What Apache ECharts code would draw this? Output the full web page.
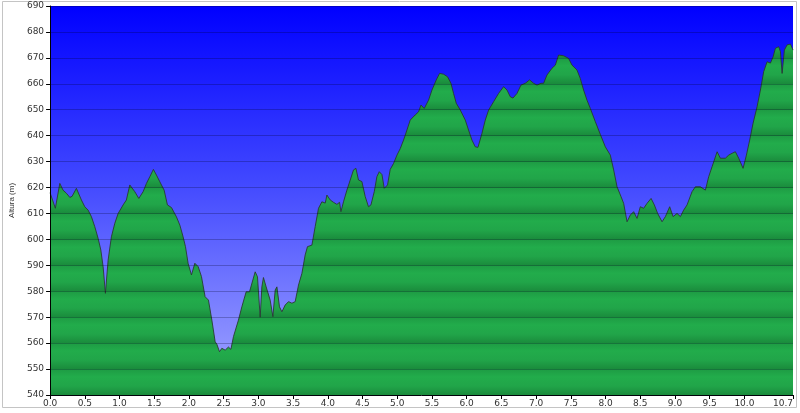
<!DOCTYPE html>
<html>
<head>
<meta charset="utf-8">
<script src="https://cdn.jsdelivr.net/npm/echarts@6/dist/echarts.min.js"></script>
<style>
html,body{margin:0;padding:0;background:#fff;}
#chart{width:800px;height:413px;}
</style>
</head>
<body>
<div id="chart"></div>
<script>
// Distance (km)
const distances = [0.00,0.076,0.14,0.187,0.235,0.284,0.317,0.379,0.403,0.451,0.50,0.548,0.595,0.644,0.692,0.731,0.764,0.797,0.807,0.836,0.883,0.932,0.98,1.052,1.099,1.148,1.171,1.22,1.278,1.34,1.388,1.437,1.488,1.532,1.581,1.643,1.69,1.748,1.82,1.869,1.916,1.95,1.988,2.036,2.085,2.133,2.18,2.233,2.281,2.33,2.378,2.402,2.44,2.474,2.522,2.569,2.604,2.641,2.713,2.762,2.824,2.872,2.892,2.954,2.987,3.026,3.05,3.073,3.112,3.17,3.209,3.242,3.267,3.304,3.339,3.386,3.434,3.483,3.53,3.578,3.627,3.674,3.707,3.771,3.818,3.866,3.915,3.963,3.987,4.035,4.082,4.131,4.169,4.189,4.226,4.275,4.323,4.37,4.405,4.442,4.491,4.539,4.586,4.621,4.669,4.707,4.741,4.78,4.813,4.86,4.899,4.947,4.996,5.043,5.091,5.14,5.187,5.259,5.307,5.342,5.389,5.451,5.50,5.562,5.61,5.667,5.725,5.774,5.811,5.85,5.908,5.98,6.027,6.076,6.124,6.163,6.22,6.268,6.316,6.388,6.46,6.532,6.581,6.628,6.667,6.725,6.782,6.844,6.906,6.964,7.013,7.07,7.108,7.157,7.229,7.277,7.324,7.396,7.468,7.517,7.589,7.637,7.684,7.733,7.781,7.853,7.925,7.997,8.069,8.117,8.166,8.223,8.261,8.31,8.357,8.405,8.454,8.501,8.549,8.598,8.656,8.703,8.751,8.814,8.862,8.924,8.973,9.03,9.078,9.125,9.174,9.246,9.294,9.366,9.438,9.486,9.535,9.607,9.654,9.726,9.774,9.823,9.87,9.918,9.981,10.029,10.076,10.125,10.183,10.231,10.278,10.327,10.375,10.413,10.447,10.494,10.519,10.543,10.576,10.615,10.663,10.70];
// Altitude (m)
const altitudes = [618,612,621.6,619,617.8,616.2,616.6,619.7,619,615.2,612.6,611.3,608.8,604.9,600.4,595.9,589.5,579.2,578.5,592,601,606.2,610,613.3,615.2,621,620.4,618.4,615.8,618.4,621.6,624.2,627,624.8,622.2,619,613.3,612.3,608.7,605.5,601,597.2,590.8,586.3,590.8,589.5,585.7,577.9,576.6,568.9,560.5,559.6,556.7,558,557.3,558.5,557.6,562.5,568.9,574,579.8,579.8,580.5,587.5,585.6,570,581.7,585.3,581.7,576.6,570.2,580.5,581.7,574,572.1,574.7,576,575.4,576,582.4,586.9,594,597.2,597.8,604.9,612,614.5,614,617.1,615.2,614.3,613.5,614.3,610.7,614.5,619,622.9,626.8,627.4,622.9,622.3,616.5,612.6,613.3,618.4,624.2,626.1,625,619.7,621,627,629.3,632.5,635,638.3,642.2,646,648,649.2,651.8,650.5,653.7,657.6,661.5,664,663.7,662.7,660.2,656.3,652.5,649.9,646,642.2,638.3,635.7,635.5,640.9,646,649.9,653.1,656.3,658.9,657.6,655,654.5,656.3,659.5,660.2,661.5,660.2,659.5,660.2,660.2,663.4,666,667.2,671.1,670.8,669.8,667.2,665.3,662,657.6,653.7,650.5,645.4,640.5,635.7,632.5,626.8,620.3,616.5,613.9,606.8,609.4,610.7,608.1,612.6,612,613.9,615.8,613.3,610,606.8,608.8,612.6,608.8,610,608.8,611.3,613.3,618.4,620.3,620.3,619,624.2,628.1,633.8,631.3,631.3,632.5,633.2,633.8,631.3,627.4,632.5,638.3,644.8,651.2,657.6,664.7,668.5,668,670.4,673.7,674.3,672.4,664,673,675,675.3,673];
// Axis tick labels
const xTickValues = [0,0.5,1,1.5,2,2.5,3,3.5,4,4.5,5,5.5,6,6.5,7,7.5,8,8.5,9,9.5,10,10.7];
const yMin = 540, yMax = 690, yStep = 10;
const xMin = 0, xMax = 10.7;
const yAxisName = 'Altura (m)';

const chart = echarts.init(document.getElementById('chart'), null, {renderer: 'canvas'});

const gridTop = 6, gridBottomPx = 395;
// banded green fill (global gradient over plot height)
const bands = (yMax - yMin) / yStep;
const greenStops = [];
for (let i = 0; i < bands; i++) {
  const o = i / bands, w = 1 / bands;
  greenStops.push({offset: o + 0.001, color: '#1e9c44'});
  greenStops.push({offset: o + w * 0.3, color: '#22ac4b'});
  greenStops.push({offset: o + w * 0.65, color: '#21a549'});
  greenStops.push({offset: o + w * 0.999, color: '#1a8b3c'});
}
const greenFill = {type: 'linear', x: 0, y: gridTop, x2: 0, y2: gridBottomPx, global: true, colorStops: greenStops};

const font = 'DejaVu Sans';
chart.setOption({
  animation: false,
  backgroundColor: '#ffffff',
  grid: {
    left: 50, right: 7, top: gridTop, bottom: 413 - gridBottomPx,
    show: true, borderWidth: 0,
    backgroundColor: new echarts.graphic.LinearGradient(0, 0, 0, 1, [
      {offset: 0, color: '#0000ff'},
      {offset: 0.45, color: '#4148ff'},
      {offset: 1, color: '#a5a9ff'}
    ])
  },
  xAxis: {
    type: 'value', min: xMin, max: xMax,
    axisLine: {show: true, lineStyle: {color: '#000', width: 1}},
    axisTick: {show: true, length: 4, customValues: xTickValues, lineStyle: {color: '#000'}},
    axisLabel: {
      customValues: xTickValues, margin: 4, color: '#333', fontFamily: font, fontSize: 9,
      alignMaxLabel: 'right',
      formatter: v => v.toFixed(1)
    },
    splitLine: {show: false}
  },
  yAxis: {
    type: 'value', min: yMin, max: yMax, interval: yStep, z: 5,
    name: yAxisName, nameLocation: 'middle', nameGap: 32, nameRotate: 90,
    nameTextStyle: {fontFamily: 'Liberation Sans', fontSize: 8, color: '#333'},
    axisLine: {show: true, lineStyle: {color: '#000', width: 1}},
    axisTick: {show: true, length: 4, lineStyle: {color: '#000'}},
    axisLabel: {margin: 6, color: '#333', fontFamily: font, fontSize: 9},
    splitLine: {show: true, lineStyle: {color: 'rgba(0,0,30,0.25)', width: 1}}
  },
  graphic: [{
    type: 'rect', z: -10, silent: true,
    shape: {x: 2.5, y: 1.5, width: 794, height: 406},
    style: {fill: 'none', stroke: '#c4c4c4', lineWidth: 1}
  }],
  series: [{
    type: 'line', z: 2,
    data: distances.map((d, i) => [d, altitudes[i]]),
    symbol: 'none', smooth: false,
    lineStyle: {color: 'rgba(40,55,45,0.85)', width: 1},
    areaStyle: {color: greenFill, opacity: 1, origin: 'start'}
  }]
});
</script>
</body>
</html>
